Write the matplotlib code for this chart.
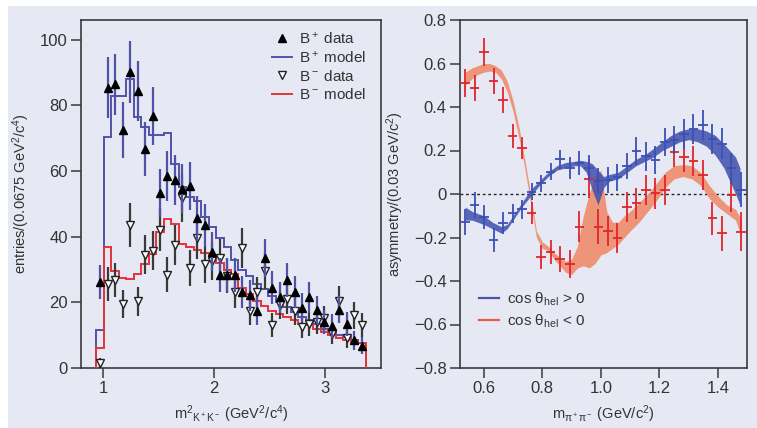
import numpy as np
import matplotlib
matplotlib.use("Agg")
import matplotlib.pyplot as plt
from matplotlib.lines import Line2D
from matplotlib.patches import Rectangle

plt.rcParams['font.family'] = ['Liberation Sans', 'DejaVu Sans']
plt.rcParams['mathtext.fontset'] = 'custom'
plt.rcParams['mathtext.rm'] = 'Liberation Sans'
plt.rcParams['mathtext.it'] = 'Liberation Sans'
plt.rcParams['mathtext.default'] = 'regular'

# ---- left panel: m^2(K+K-) spectra, bin width 0.0675 GeV^2/c^4 ----
bin_lo = 0.94
bin_w = 0.0675
edges = bin_lo + bin_w * np.arange(37)
centers = edges[:-1] + bin_w / 2

bplus_model = [11.5, 70.5, 83.0, 83.0, 88.0, 76.5, 73.5, 71.0, 71.0, 71.5, 62.0, 55.0,
               52.0, 51.0, 46.0, 43.0, 39.5, 37.0, 33.0, 30.0, 28.0, 25.5, 24.0, 22.0,
               20.0, 18.5, 17.0, 15.5, 14.5, 13.5, 12.0, 11.0, 10.0, 9.5, 8.5, 7.5]
bminus_model = [6.0, 37.0, 29.5, 27.5, 27.0, 28.5, 31.8, 34.8, 41.4, 45.5, 44.0, 37.9,
                36.8, 36.0, 35.0, 33.5, 32.0, 30.0, 28.5, 24.5, 22.5, 20.5, 19.0, 17.5,
                16.5, 15.5, 14.5, 13.5, 13.0, 12.0, 11.0, 10.0, 9.0, 8.5, 8.0, 7.5]

bplus_data = [26.2, 85.4, 86.4, 72.4, 90.2, 84.4, 66.6, 76.7, 53.3, 58.5, 57.4, 54.6,
              55.4, 45.6, 43.5, 35.4, 28.3, 28.3, 28.3, 23.2, 22.1, 17.3, 33.6, 24.5,
              21.5, 26.7, 23.2, 18.4, 21.5, 17.6, 14.0, 12.8, 17.8, 13.4, 8.5, 6.8]
bplus_err = [5.2, 9.3, 9.3, 8.5, 9.5, 9.2, 8.2, 8.8, 7.3, 7.6, 7.6, 7.4,
             7.4, 6.8, 6.6, 6.0, 5.3, 5.3, 5.3, 4.8, 4.7, 4.2, 5.8, 4.9,
             4.6, 5.2, 4.8, 4.3, 4.6, 4.2, 3.7, 3.6, 4.2, 3.7, 2.9, 2.6]
bminus_data = [1.6, 25.6, 26.9, 19.5, 43.6, 20.3, 34.5, 35.7, 42.1, 28.4, 37.6, 51.7,
               30.4, 39.5, 31.6, 32.6, 33.6, 28.0, 23.2, 36.5, 17.3, 23.0, 29.5, 13.1,
               19.2, 21.0, 17.4, 12.5, 13.5, 14.0, 15.1, 10.5, 20.4, 9.0, 16.0, 13.1]
bminus_err = [1.5, 5.1, 5.2, 4.4, 6.6, 4.5, 5.9, 6.0, 6.5, 5.3, 6.1, 7.2,
              5.5, 6.3, 5.6, 5.7, 5.8, 5.3, 4.8, 6.0, 4.2, 4.8, 5.4, 3.6,
              4.4, 4.6, 4.2, 3.5, 3.7, 3.7, 3.9, 3.2, 4.5, 3.0, 4.0, 3.6]

# ---- right panel: asymmetry vs m(pi+pi-) ----
mpp = [0.536, 0.569, 0.601, 0.634, 0.666, 0.699, 0.731, 0.764, 0.796, 0.829,
       0.861, 0.894, 0.926, 0.959, 0.991, 1.024, 1.056, 1.089, 1.121, 1.154,
       1.186, 1.219, 1.251, 1.284, 1.316, 1.349, 1.381, 1.414, 1.446, 1.479]
asym_pos = [-0.130, -0.051, -0.104, -0.212, -0.135, -0.089, -0.071, 0.011, 0.049, 0.103,
            0.159, 0.118, 0.141, 0.120, 0.060, 0.064, 0.076, 0.128, 0.197, 0.173,
            0.156, 0.239, 0.248, 0.277, 0.300, 0.318, 0.252, 0.232, 0.118, 0.020]
asym_pos_err = [0.06, 0.06, 0.055, 0.055, 0.05, 0.045, 0.045, 0.04, 0.04, 0.04,
                0.045, 0.05, 0.055, 0.06, 0.06, 0.06, 0.06, 0.06, 0.065, 0.065,
                0.065, 0.065, 0.065, 0.07, 0.07, 0.07, 0.07, 0.07, 0.07, 0.08]
asym_neg = [0.512, 0.486, 0.654, 0.520, 0.432, 0.267, 0.210, -0.086, -0.291, -0.265,
            -0.300, -0.322, -0.150, 0.070, -0.150, -0.171, -0.202, -0.060, -0.043, 0.018,
            0.003, 0.018, 0.195, 0.169, 0.152, 0.087, -0.112, -0.181, -0.005, -0.173]
asym_neg_err = [0.065, 0.06, 0.065, 0.06, 0.06, 0.055, 0.05, 0.05, 0.055, 0.055,
                0.06, 0.065, 0.07, 0.09, 0.08, 0.07, 0.07, 0.07, 0.07, 0.07,
                0.07, 0.07, 0.07, 0.07, 0.07, 0.07, 0.075, 0.08, 0.08, 0.09]

band_pos_x = [0.537, 0.56, 0.60, 0.63, 0.66, 0.68, 0.70, 0.73, 0.76, 0.79, 0.82, 0.85,
              0.88, 0.91, 0.93, 0.95, 0.97, 0.99, 1.01, 1.03, 1.06, 1.09, 1.12, 1.15,
              1.18, 1.21, 1.24, 1.27, 1.30, 1.33, 1.36, 1.39, 1.42, 1.44, 1.46, 1.475]
band_pos_lo = [-0.12, -0.12, -0.14, -0.16, -0.18, -0.16, -0.12, -0.06, -0.01, 0.04, 0.08, 0.11,
               0.12, 0.13, 0.13, 0.10, 0.02, -0.05, 0.03, 0.06, 0.07, 0.10, 0.13, 0.15,
               0.17, 0.20, 0.22, 0.24, 0.25, 0.24, 0.22, 0.18, 0.12, 0.06, 0.00, -0.05]
band_pos_hi = [-0.06, -0.08, -0.10, -0.13, -0.15, -0.14, -0.10, -0.04, 0.02, 0.06, 0.10, 0.13,
               0.145, 0.15, 0.155, 0.15, 0.14, 0.11, 0.08, 0.09, 0.10, 0.13, 0.16, 0.18,
               0.21, 0.24, 0.27, 0.29, 0.30, 0.30, 0.29, 0.27, 0.23, 0.20, 0.17, 0.12]

band_neg_x = [0.537, 0.56, 0.58, 0.60, 0.62, 0.64, 0.66, 0.68, 0.70, 0.72, 0.74, 0.76,
              0.78, 0.80, 0.82, 0.84, 0.86, 0.88, 0.90, 0.92, 0.94, 0.96, 0.98, 1.00,
              1.02, 1.04, 1.06, 1.08, 1.10, 1.13, 1.16, 1.19, 1.22, 1.25, 1.28, 1.31,
              1.34, 1.37, 1.40, 1.43, 1.46, 1.48]
band_neg_lo = [0.50, 0.53, 0.55, 0.56, 0.565, 0.56, 0.53, 0.47, 0.38, 0.26, 0.12, -0.04,
               -0.20, -0.25, -0.26, -0.30, -0.33, -0.36, -0.37, -0.34, -0.33, -0.34, -0.32, -0.28,
               -0.27, -0.25, -0.23, -0.20, -0.17, -0.13, -0.08, -0.03, 0.03, 0.07, 0.08, 0.07,
               0.04, -0.02, -0.06, -0.09, -0.12, -0.20]
band_neg_hi = [0.56, 0.58, 0.59, 0.60, 0.60, 0.59, 0.57, 0.52, 0.43, 0.31, 0.16, 0.00,
               -0.17, -0.22, -0.24, -0.27, -0.29, -0.31, -0.30, -0.24, -0.10, 0.00, 0.08, 0.11,
               -0.08, -0.13, -0.13, -0.10, -0.08, -0.04, 0.00, 0.05, 0.10, 0.13, 0.135, 0.13,
               0.10, 0.04, -0.01, -0.05, -0.07, -0.12]

BG = '#e6e9f4'
BLUE = '#5052a8'
RED = '#e2343a'
XBLUE = '#3a50b4'
XRED = '#e0262a'
INK = '#333333'

fig = plt.figure(figsize=(7.57, 4.28), dpi=100, facecolor='white')
fig.patches.append(Rectangle((8 / 757, 0), 1, 1 - 6 / 428, transform=fig.transFigure,
                             facecolor=BG, edgecolor='none', zorder=-10))

ax1 = fig.add_axes([81 / 757, 1 - 368 / 428, 300 / 757, 348 / 428])
ax2 = fig.add_axes([460 / 757, 1 - 368 / 428, 287 / 757, 348 / 428])

for ax in (ax1, ax2):
    ax.set_facecolor(BG)
    for s in ax.spines.values():
        s.set_color('#3a3a3a')
        s.set_linewidth(1.2)
    ax.tick_params(direction='out', length=7.5, width=1.1, color='#3a3a3a',
                   labelsize=12, labelcolor=INK, pad=2,
                   top=False, right=False)

# left panel
ax1.stairs(bplus_model, edges, color=BLUE, lw=1.4, baseline=0, zorder=2)
ax1.stairs(bminus_model, edges, color=RED, lw=1.4, baseline=0, zorder=3)
ax1.errorbar(centers, bplus_data, yerr=bplus_err, fmt='^', color=BLUE, ecolor=BLUE,
             mfc='black', mec='black', ms=5.5, elinewidth=1.6, capsize=0, zorder=5)
ax1.errorbar(centers, bminus_data, yerr=bminus_err, fmt='v', color='#3a3a3a', ecolor='#3a3a3a',
             mfc='white', mec='#222222', ms=6, mew=1.0, elinewidth=1.6, capsize=0, zorder=4)
ax1.set_xlim(0.80, 3.51)
ax1.set_ylim(0, 106)
ax1.set_xticks([1, 2, 3])
ax1.set_yticks([0, 20, 40, 60, 80, 100])
ax1.set_ylabel('entries/(0.0675 GeV$^2$/c$^4$)', fontsize=10.5, color=INK, labelpad=6)
ax1.set_xlabel('m$^2$$_{K^+K^-}$ (GeV$^2$/c$^4$)', fontsize=10.5, color=INK, labelpad=5)

handles1 = [
    Line2D([], [], ls='none', marker='^', mfc='black', mec='black', ms=5.5),
    Line2D([], [], color=BLUE, lw=1.4),
    Line2D([], [], ls='none', marker='v', mfc='white', mec='#222222', ms=6),
    Line2D([], [], color=RED, lw=1.4),
]
labels1 = ['B$^+$ data', 'B$^+$ model', 'B$^-$ data', 'B$^-$ model']
ax1.legend(handles1, labels1, loc='upper left', bbox_to_anchor=(0.6, 1.0), frameon=False,
           fontsize=11, handlelength=1.3, handletextpad=0.5, labelspacing=0.2,
           labelcolor=INK, borderaxespad=0.3)

# right panel
ax2.fill_between(band_neg_x, band_neg_lo, band_neg_hi, color='#ef8b6c', lw=0, alpha=0.9, zorder=2)
ax2.fill_between(band_pos_x, band_pos_lo, band_pos_hi, color='#3f4fae', lw=0, alpha=0.85, zorder=3)
ax2.axhline(0, color='#222222', lw=1.0, ls=(0, (2, 2)), zorder=1)
ax2.errorbar(mpp, asym_neg, yerr=asym_neg_err, xerr=0.016, fmt='none', ecolor=XRED,
             elinewidth=1.3, capsize=0, zorder=4)
ax2.errorbar(mpp, asym_pos, yerr=asym_pos_err, xerr=0.016, fmt='none', ecolor=XBLUE,
             elinewidth=1.3, capsize=0, zorder=5)
ax2.set_xlim(0.519, 1.499)
ax2.set_ylim(-0.8, 0.8)
ax2.set_xticks([0.6, 0.8, 1.0, 1.2, 1.4])
ax2.set_xticklabels(['0.6', '0.8', '1.0', '1.2', '1.4'])
yt = [-0.8, -0.6, -0.4, -0.2, 0, 0.2, 0.4, 0.6, 0.8]
ax2.set_yticks(yt)
ax2.set_yticklabels(['0' if v == 0 else f'{v:.1f}'.replace('-', '\u2212') for v in yt])
ax2.set_ylabel('asymmetry/(0.03 GeV/c$^2$)', fontsize=10.5, color=INK, labelpad=6)
ax2.set_xlabel('m$_{\\pi^+\\pi^-}$ (GeV/c$^2$)', fontsize=10.5, color=INK, labelpad=5)

handles2 = [Line2D([], [], color='#4b55a8', lw=1.6), Line2D([], [], color='#ee5a4a', lw=1.6)]
labels2 = ['cos \u03b8$_{hel}$ > 0', 'cos \u03b8$_{hel}$ < 0']
ax2.legend(handles2, labels2, loc='lower left', bbox_to_anchor=(0.02, 0.07), frameon=False,
           fontsize=11, handlelength=1.3, handletextpad=0.5, labelspacing=0.3,
           labelcolor=INK)

fig.savefig('out.png', dpi=100, facecolor=fig.get_facecolor())
